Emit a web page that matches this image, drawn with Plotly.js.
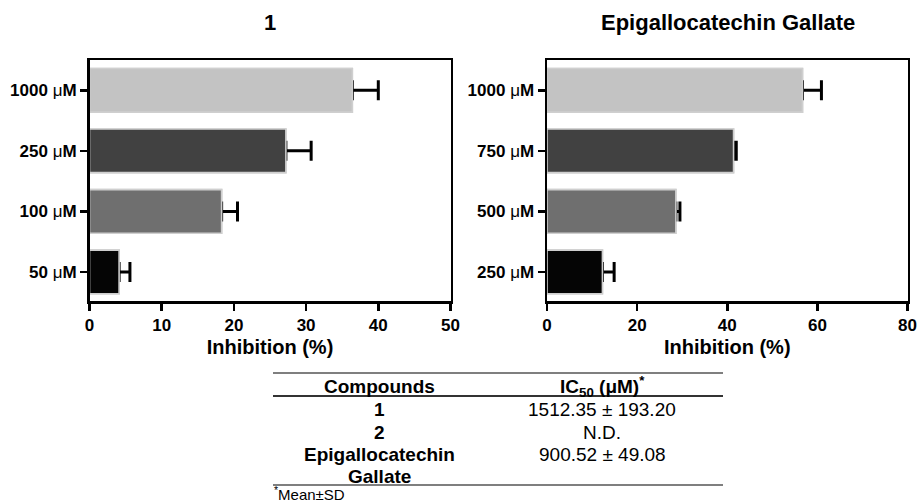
<!DOCTYPE html>
<html><head><meta charset="utf-8">
<script src="https://cdn.plot.ly/plotly-3.0.1.min.js"></script>
<style>html,body{margin:0;padding:0;background:#fff}#chart{width:919px;height:504px}</style>
</head><body><div id="chart"></div>
<script>
const W = 919, H = 504;

// ---- data ----
const panelTitles = ['1', 'Epigallocatechin Gallate'];
const doses1 = ['50 μM', '100 μM', '250 μM', '1000 μM'];
const inhib1 = [4.1, 18.3, 27.2, 36.4];
const sd1 = [1.5, 2.2, 3.5, 3.6];
const doses2 = ['250 μM', '500 μM', '750 μM', '1000 μM'];
const inhib2 = [12.3, 28.6, 41.4, 56.7];
const sd2 = [2.6, 0.9, 0.6, 4.2];
const xTicks1 = [0, 10, 20, 30, 40, 50];
const xTicks2 = [0, 20, 40, 60, 80];
const xTitle = 'Inhibition (%)';
const tableHeader = ['Compounds', 'IC<sub>50</sub> (μM)<sup>*</sup>'];
const compounds = ['1', '2', 'Epigallocatechin<br>Gallate'];
const ic50 = ['1512.35 ± 193.20', 'N.D.', '900.52 ± 49.08'];
const footnote = '<sup>*</sup>Mean±SD';

// ---- style ----
const barColors = ['#050505', '#6f6f6f', '#414141', '#c3c3c3'];
const FONT = 'Liberation Sans, Arial, Helvetica, sans-serif';
const px = x => x / W;
const py = y => 1 - y / H;
const fmtTick = d => d.replace('μ', '<span style="font-weight:normal">μ</span>');

function barTrace(doses, vals, sd, xa, ya, withErr) {
  const t = {
    type: 'bar', orientation: 'h', x: vals, y: doses, xaxis: xa, yaxis: ya,
    width: 0.72, showlegend: false, hoverinfo: 'x+y',
    marker: { color: barColors, line: { color: '#cfcfcf', width: 1.6 } }
  };
  if (withErr) {
    t.error_x = { type: 'data', array: sd, symmetric: false, color: '#000', thickness: 3, width: 10 };
  }
  return t;
}

const data = [
  barTrace(doses1, inhib1, sd1, 'x', 'y', true),
  barTrace(doses1, inhib1, sd1, 'x', 'y', false),
  barTrace(doses2, inhib2, sd2, 'x2', 'y2', true),
  barTrace(doses2, inhib2, sd2, 'x2', 'y2', false)
];

const tickFont = { family: FONT, size: 17, color: '#000', weight: 'bold' };
function xAxis(domain, ticks, anchor) {
  return {
    domain: domain, range: [0, ticks[ticks.length - 1]], tickvals: ticks,
    ticks: 'outside', ticklen: 7, tickwidth: 2.5, tickcolor: '#000',
    showline: true, mirror: true, linewidth: 2.5, linecolor: '#000',
    showgrid: false, zeroline: false, anchor: anchor, fixedrange: true,
    tickfont: tickFont,
    title: { text: xTitle, font: { family: FONT, size: 20, color: '#000', weight: 'bold' }, standoff: 6 }
  };
}
function yAxis(domain, doses, anchor) {
  return {
    domain: domain, type: 'category', range: [-0.48, 3.5],
    tickvals: doses, ticktext: doses.map(fmtTick),
    ticks: 'outside', ticklen: 7, tickwidth: 2.5, tickcolor: '#000',
    showline: true, mirror: true, linewidth: 2.5, linecolor: '#000',
    showgrid: false, zeroline: false, anchor: anchor, fixedrange: true,
    tickfont: tickFont
  };
}

const yDom = [py(301), py(60)];
const annotations = [];
const ann = (text, x, y, opts) => Object.assign({
  text: text, x: px(x), y: py(y), xref: 'paper', yref: 'paper', showarrow: false,
  xanchor: 'center', yanchor: 'middle',
  font: { family: FONT, size: 19, color: '#000' }
}, opts || {});

annotations.push(ann(panelTitles[0], 270, 23, { font: { family: FONT, size: 22, color: '#000', weight: 'bold' } }));
annotations.push(ann(panelTitles[1], 727.5, 23, { font: { family: FONT, size: 22, color: '#000', weight: 'bold' } }));

const colX = [379, 602];
const boldF = { family: FONT, size: 19, color: '#000', weight: 'bold' };
const regF = { family: FONT, size: 19, color: '#000' };
annotations.push(ann(tableHeader[0], colX[0], 386, { font: boldF }));
annotations.push(ann(tableHeader[1], colX[1], 386, { font: boldF }));
const rowY = [409, 432, 454];
const lineGap = 22;
compounds.forEach((c, i) => {
  c.split('<br>').forEach((part, k) => {
    annotations.push(ann(part, colX[0], rowY[i] + k * lineGap, { font: boldF }));
  });
  annotations.push(ann(ic50[i], colX[1], rowY[i], { font: regF }));
});
annotations.push(ann(footnote, 272, 493, { xanchor: 'left', font: { family: FONT, size: 15, color: '#000' } }));

const line = (y, w, c) => ({ type: 'line', xref: 'paper', yref: 'paper', x0: px(273), x1: px(723), y0: py(y), y1: py(y), line: { color: c, width: w } });
const shapes = [line(373, 1.3, '#555'), line(396, 1.8, '#333'), line(485, 1.3, '#555')];

const layout = {
  width: W, height: H, margin: { l: 0, r: 0, t: 0, b: 0, pad: 0 },
  paper_bgcolor: '#fff', plot_bgcolor: '#fff', barmode: 'overlay',
  font: { family: FONT, color: '#000' },
  xaxis: xAxis([px(89.5), px(450.5)], xTicks1, 'y'),
  yaxis: yAxis(yDom, doses1, 'x'),
  xaxis2: xAxis([px(547), px(907.5)], xTicks2, 'y2'),
  yaxis2: yAxis(yDom, doses2, 'x2'),
  annotations: annotations, shapes: shapes
};

Plotly.newPlot('chart', data, layout, { displayModeBar: false, staticPlot: true });
</script></body></html>
